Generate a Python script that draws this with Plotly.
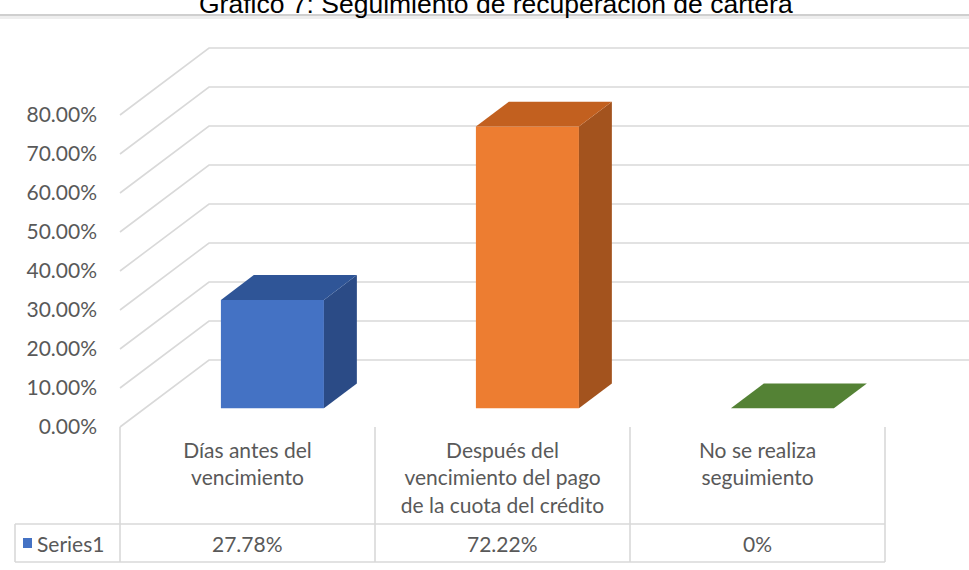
import plotly.graph_objects as go

# ---------------- data ----------------
title_text = "Gráfico 7: Seguimiento de recuperación de cartera"
categories = ["Días antes del<br>vencimiento",
              "Después del<br>vencimiento del pago<br>de la cuota del crédito",
              "No se realiza<br>seguimiento"]
values = [27.78, 72.22, 0.0]
value_labels = ["27.78%", "72.22%", "0%"]
series_name = "Series1"
y_ticks = [0, 10, 20, 30, 40, 50, 60, 70, 80]
y_tick_labels = ["0.00%", "10.00%", "20.00%", "30.00%", "40.00%",
                 "50.00%", "60.00%", "70.00%", "80.00%"]
front_colors = ["#4472C4", "#ED7D31", "#70AD47"]
top_colors = ["#2F5597", "#C2601F", "#548235"]
side_colors = ["#2B4B86", "#A3531E", "#43682A"]

# ---------------- geometry (pixels -> axis units) ----------------
W, H = 969, 570
PX_PER_CAT = 255.0
PX_PER_PCT = 3.9
WALL_X_PX = 120.0
ZERO_PX = 427.0
XMIN = -0.5 - WALL_X_PX / PX_PER_CAT
XMAX = XMIN + W / PX_PER_CAT
YMIN = -(H - ZERO_PX) / PX_PER_PCT
YMAX = ZERO_PX / PX_PER_PCT
DX = 89.0 / PX_PER_CAT       # depth vector of the floor
DY = 67.0 / PX_PER_PCT
Z_FRONT = 0.28
Z_BACK = 0.65
HALF_W = 0.202

def px_to_x(px):
    return XMIN + px / PX_PER_CAT

def py_to_y(py):
    return (ZERO_PX - py) / PX_PER_PCT

GRID = "#D9D9D9"
TEXT = "#595959"
FONT = "Lato"
FS = 21

fig = go.Figure()
shapes = []

# side + back walls (gridlines)
for v in y_ticks:
    shapes.append(dict(type="path", layer="below", xref="x", yref="y",
                       path=f"M {-0.5} {v} L {-0.5 + DX} {v + DY} L {XMAX} {v + DY}",
                       line=dict(color=GRID, width=1.6)))

# table
n = len(categories)
tbl_top = py_to_y(ZERO_PX)
tbl_mid = py_to_y(524)
tbl_bot = py_to_y(562)
tbl_left = px_to_x(15)
for k in range(n + 1):
    xb = -0.5 + k
    shapes.append(dict(type="line", layer="below", xref="x", yref="y",
                       x0=xb, x1=xb, y0=tbl_top, y1=tbl_bot,
                       line=dict(color=GRID, width=1.6)))
for yy in (tbl_mid, tbl_bot):
    shapes.append(dict(type="line", layer="below", xref="x", yref="y",
                       x0=tbl_left, x1=n - 0.5, y0=yy, y1=yy,
                       line=dict(color=GRID, width=1.6)))
shapes.append(dict(type="line", layer="below", xref="x", yref="y",
                   x0=tbl_left, x1=tbl_left, y0=tbl_mid, y1=tbl_bot,
                   line=dict(color=GRID, width=1.6)))
# legend key
shapes.append(dict(type="rect", xref="x", yref="y",
                   x0=px_to_x(23), x1=px_to_x(32), y0=py_to_y(538), y1=py_to_y(548),
                   fillcolor=front_colors[0], line=dict(width=0)))
# title separator shadow
shapes.append(dict(type="line", xref="paper", yref="paper", x0=0, x1=1,
                   y0=1 - 15 / H, y1=1 - 15 / H, line=dict(color="#CFCFCF", width=2)))
shapes.append(dict(type="line", xref="paper", yref="paper", x0=0, x1=1,
                   y0=1 - 17.5 / H, y1=1 - 17.5 / H, line=dict(color="#EEEEEE", width=3)))

# bars: front faces
bx = [i + Z_FRONT * DX for i in range(n)]
base = Z_FRONT * DY
fig.add_trace(go.Bar(x=bx, y=values, base=[base] * n, width=2 * HALF_W,
                     marker=dict(color=front_colors, line=dict(width=0)),
                     hoverinfo="skip", showlegend=False))

# bars: side and top faces
bdx = (Z_BACK - Z_FRONT) * DX
bdy = (Z_BACK - Z_FRONT) * DY
for i, v in enumerate(values):
    x0 = bx[i] - HALF_W
    x1 = bx[i] + HALF_W
    y0 = base
    y1 = base + v
    if v > 0:
        fig.add_trace(go.Scatter(
            x=[x1, x1 + bdx, x1 + bdx, x1, x1],
            y=[y0, y0 + bdy, y1 + bdy, y1, y0],
            fill="toself", fillcolor=side_colors[i], mode="lines",
            line=dict(width=0, color=side_colors[i]), hoverinfo="skip", showlegend=False))
    fig.add_trace(go.Scatter(
        x=[x0, x0 + bdx, x1 + bdx, x1, x0],
        y=[y1, y1 + bdy, y1 + bdy, y1, y1],
        fill="toself", fillcolor=top_colors[i], mode="lines",
        line=dict(width=0, color=top_colors[i]), hoverinfo="skip", showlegend=False))

annotations = []
# value row
for i, lab in enumerate(value_labels):
    annotations.append(dict(x=i, y=py_to_y(543), xref="x", yref="y", text=lab,
                            showarrow=False, font=dict(family=FONT, size=FS, color=TEXT)))
annotations.append(dict(x=px_to_x(35), y=py_to_y(543), xref="x", yref="y",
                        text=series_name, xanchor="left", showarrow=False,
                        font=dict(family=FONT, size=FS, color=TEXT)))
# title
annotations.append(dict(x=495.5 / W, y=1 + 13 / H, xref="paper", yref="paper",
                        text=title_text, xanchor="center", yanchor="top", showarrow=False,
                        font=dict(family="Liberation Sans", size=26.5, color="#000000")))

fig.update_layout(
    width=W, height=H,
    margin=dict(l=0, r=0, t=0, b=0),
    paper_bgcolor="white", plot_bgcolor="white",
    shapes=shapes, annotations=annotations,
    showlegend=False,
    xaxis=dict(range=[XMIN, XMAX], anchor="free", position=(H - ZERO_PX) / H,
               tickmode="array", tickvals=list(range(n)), ticktext=categories,
               showgrid=False, zeroline=False, showline=False, ticks="",
               ticklabelstandoff=9,
               tickfont=dict(family=FONT, size=FS, color=TEXT)),
    yaxis=dict(range=[YMIN, YMAX], anchor="free", position=WALL_X_PX / W,
               tickmode="array", tickvals=y_ticks, ticktext=y_tick_labels,
               showgrid=False, zeroline=False, showline=False, ticks="",
               ticklabelstandoff=23,
               tickfont=dict(family=FONT, size=FS, color=TEXT)),
)

fig.write_html("out.html", config={"displayModeBar": False},
               post_script="document.body.style.margin='0';")
